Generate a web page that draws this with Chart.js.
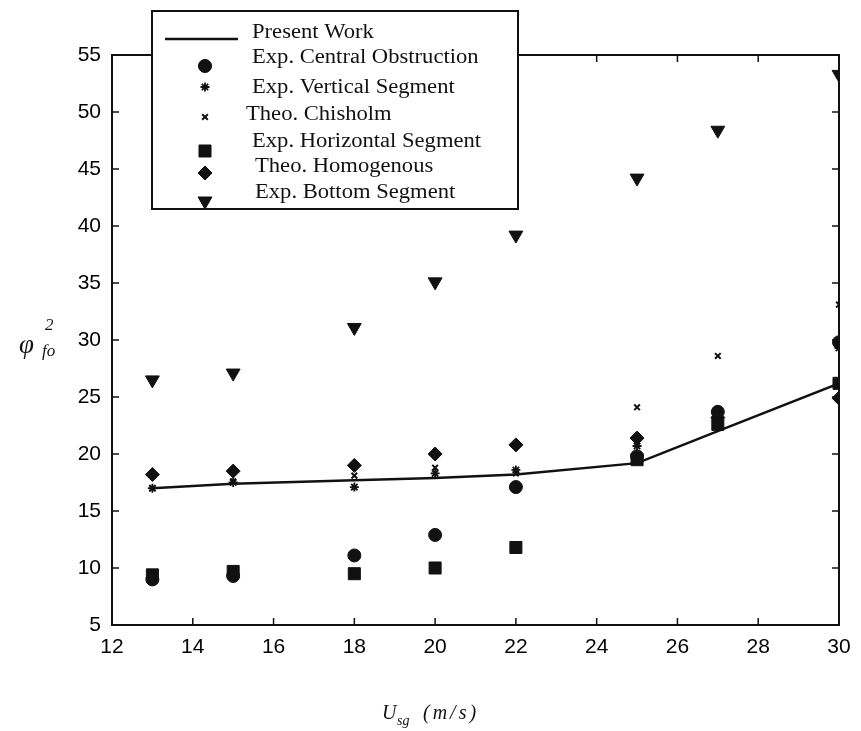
<!DOCTYPE html>
<html>
<head>
<meta charset="utf-8">
<script src="https://cdn.jsdelivr.net/npm/chart.js@4/dist/chart.umd.min.js"></script>
<style>
  html, body { margin: 0; padding: 0; background: #fff; }
  #wrap { width: 861px; height: 731px; }
</style>
</head>
<body>
<div id="wrap"><canvas id="chart" width="861" height="731"></canvas></div>
<script>
// gas superficial velocity U_sg (m/s)
const usg = [13, 15, 18, 20, 22, 25, 27, 30];

// two-phase multiplier phi_fo^2
const presentWork   = [17.0, 17.4, 17.7, 17.9, 18.2, 19.2, 22.0, 26.2];
const expCentral    = [9.0, 9.3, 11.1, 12.9, 17.1, 19.8, 23.7, 29.8];
const expVertical   = [17.0, 17.5, 17.1, 18.3, 18.6, 20.7, 22.6, 29.3];
const theoChisholm  = [17.0, 17.6, 18.1, 18.8, 18.3, 24.1, 28.6, 33.1];
const expHorizontal = [9.4, 9.7, 9.5, 10.0, 11.8, 19.5, 22.6, 26.2];
const theoHomog     = [18.2, 18.5, 19.0, 20.0, 20.8, 21.4, 23.2, 24.9];
const expBottom     = [26.5, 27.1, 31.1, 35.1, 39.2, 44.2, 48.4, 53.3];

const xTicks = [12, 14, 16, 18, 20, 22, 24, 26, 28, 30];
const yTicks = [5, 10, 15, 20, 25, 30, 35, 40, 45, 50, 55];

const pts = ys => usg.map((x, i) => ({ x, y: ys[i] }));

const series = [
  { label: "Present Work", data: pts(presentWork), showLine: true, borderColor: "#111", borderWidth: 2.5, pointRadius: 0 },
  { label: "Exp. Central Obstruction", data: pts(expCentral), pointStyle: "circle", pointRadius: 6.5 },
  { label: "Exp. Vertical Segment", data: pts(expVertical), pointStyle: "star", pointRadius: 4.5, pointBorderWidth: 1.8 },
  { label: "Theo. Chisholm", data: pts(theoChisholm), pointStyle: "crossRot", pointRadius: 4, pointBorderWidth: 2 },
  { label: "Exp. Horizontal Segment", data: pts(expHorizontal), pointStyle: "rect", pointRadius: 8.5 },
  { label: "Theo. Homogenous", data: pts(theoHomog), pointStyle: "rectRot", pointRadius: 7 },
  { label: "Exp. Bottom Segment", data: pts(expBottom), pointStyle: "triangle", pointRadius: 8, pointRotation: 180 },
];
series.forEach(s => {
  s.backgroundColor = "#111";
  s.pointBackgroundColor = "#111";
  s.pointBorderColor = "#111";
  if (s.pointBorderWidth == null) s.pointBorderWidth = 1;
});

// box with inward ticks on all four sides (matlab look)
const frame = {
  id: "frame",
  afterDatasetsDraw(chart) {
    const { ctx, chartArea: a, scales } = chart;
    ctx.save();
    ctx.strokeStyle = "#111";
    ctx.lineWidth = 2;
    ctx.strokeRect(a.left, a.top, a.right - a.left, a.bottom - a.top);
    ctx.lineWidth = 1.5;
    ctx.beginPath();
    xTicks.forEach(v => {
      const px = scales.x.getPixelForValue(v);
      ctx.moveTo(px, a.bottom); ctx.lineTo(px, a.bottom - 7);
      ctx.moveTo(px, a.top); ctx.lineTo(px, a.top + 7);
    });
    yTicks.forEach(v => {
      const py = scales.y.getPixelForValue(v);
      ctx.moveTo(a.left, py); ctx.lineTo(a.left + 7, py);
      ctx.moveTo(a.right, py); ctx.lineTo(a.right - 7, py);
    });
    ctx.stroke();
    ctx.restore();
  }
};

// legend box sitting over the top edge, plus the axis titles
const extras = {
  id: "extras",
  afterDraw(chart) {
    const { ctx } = chart;
    ctx.save();
    ctx.fillStyle = "#fff";
    ctx.fillRect(152, 11, 366, 198);
    ctx.strokeStyle = "#111";
    ctx.lineWidth = 2;
    ctx.strokeRect(152, 11, 366, 198);

    const rows = [
      { textX: 252, textY: 33, markY: 39 },
      { textX: 252, textY: 58, markY: 66 },
      { textX: 252, textY: 88, markY: 87 },
      { textX: 246, textY: 115, markY: 117 },
      { textX: 252, textY: 142, markY: 151 },
      { textX: 255, textY: 167, markY: 173 },
      { textX: 255, textY: 193, markY: 201 },
    ];
    ctx.textBaseline = "middle";
    ctx.fillStyle = "#111";
    series.forEach((s, i) => {
      const r = rows[i];
      // the scanned legend text is a little wider than Times, stretch it
      ctx.save();
      ctx.font = '20px "Liberation Serif"';
      ctx.translate(r.textX, r.textY);
      ctx.scale(1.13, 1);
      ctx.fillText(s.label, 0, 0);
      ctx.restore();
      if (s.showLine) {
        ctx.strokeStyle = "#111";
        ctx.lineWidth = 2.5;
        ctx.beginPath();
        ctx.moveTo(165, r.markY); ctx.lineTo(238, r.markY);
        ctx.stroke();
      } else {
        ctx.fillStyle = "#111";
        ctx.strokeStyle = "#111";
        ctx.lineWidth = s.pointBorderWidth;
        Chart.helpers.drawPoint(ctx, {
          pointStyle: s.pointStyle,
          radius: s.pointRadius,
          rotation: s.pointRotation || 0,
          borderWidth: s.pointBorderWidth
        }, 205, r.markY);
        ctx.fill();
      }
    });

    // y title: phi^2_fo
    ctx.textBaseline = "alphabetic";
    ctx.font = 'italic 27px "Liberation Serif"';
    ctx.fillText("φ", 19, 353);
    ctx.font = 'italic 17px "Liberation Serif"';
    ctx.fillText("2", 45, 330);
    ctx.fillText("fo", 42, 356);

    // x title: U_sg (m/s)
    ctx.font = 'italic 20px "Liberation Serif"';
    ctx.fillText("U", 382, 719);
    ctx.font = 'italic 14px "Liberation Serif"';
    ctx.fillText("sg", 397, 725);
    ctx.font = 'italic 20px "Liberation Serif"';
    ctx.letterSpacing = "3px";
    ctx.fillText("(m/s)", 423, 719);
    ctx.restore();
  }
};

const tickFont = { family: '"Liberation Sans", Arial, sans-serif', size: 21 };

new Chart(document.getElementById("chart"), {
  type: "scatter",
  data: { datasets: series },
  options: {
    responsive: false,
    animation: false,
    layout: { padding: { left: 0, top: 55, right: 22, bottom: 64 } },
    plugins: { legend: { display: false }, tooltip: { enabled: false } },
    scales: {
      x: {
        type: "linear", min: 12, max: 30,
        afterBuildTicks: s => { s.ticks = xTicks.map(v => ({ value: v })); },
        afterFit: s => { s.height = 42; },
        grid: { display: false, drawTicks: false },
        border: { display: false },
        ticks: { font: tickFont, color: "#000", padding: 10 }
      },
      y: {
        type: "linear", min: 5, max: 55,
        afterBuildTicks: s => { s.ticks = yTicks.map(v => ({ value: v })); },
        afterFit: s => { s.width = 112; },
        grid: { display: false, drawTicks: false },
        border: { display: false },
        ticks: { font: tickFont, color: "#000", padding: 11 }
      }
    }
  },
  plugins: [frame, extras]
});
</script>
</body>
</html>
